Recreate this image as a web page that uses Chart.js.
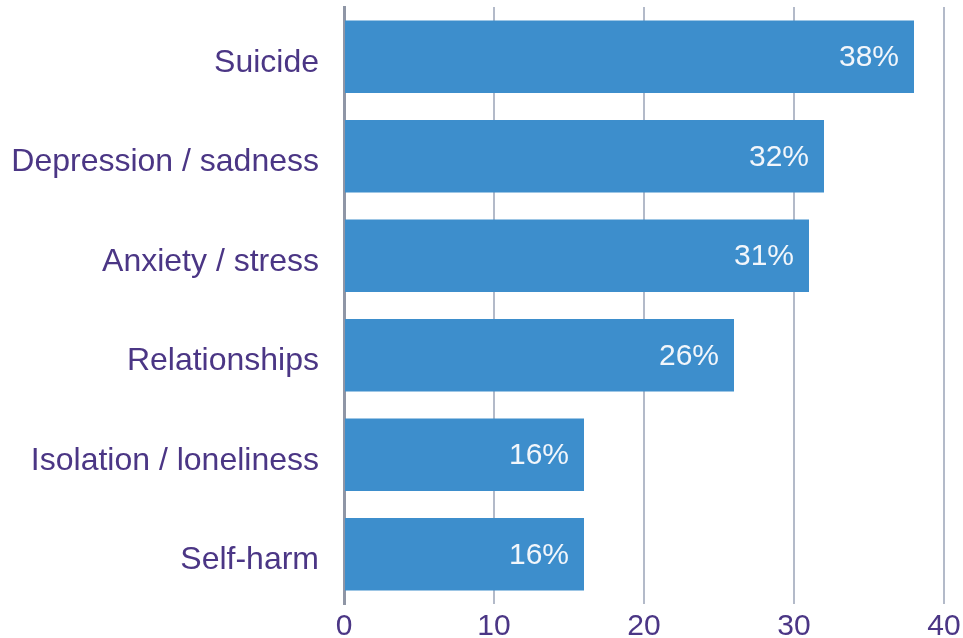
<!DOCTYPE html>
<html>
<head>
<meta charset="utf-8">
<script src="https://cdn.jsdelivr.net/npm/chart.js@4.4.0/dist/chart.umd.min.js"></script>
<style>
  html, body { margin: 0; padding: 0; background: #fff; }
  #wrap { width: 963px; height: 638px; }
</style>
</head>
<body>
<div id="wrap"><canvas id="topicChart"></canvas></div>
<script>
// categorie e valori
const categories = ["Suicide", "Depression / sadness", "Anxiety / stress", "Relationships", "Isolation / loneliness", "Self-harm"];
const percentValues = [38, 32, 31, 26, 16, 16];
const xTicks = [0, 10, 20, 30, 40];

const labelColor = "#4b3685";
const barColor = "#3d8ecc";
const fontFamily = "'Liberation Sans', Arial, sans-serif";

// etichette bianche dentro la fine della barra
const barLabels = {
    id: "barLabels",
    afterDatasetsDraw(chart) {
        const ctx = chart.ctx;
        const meta = chart.getDatasetMeta(0);
        ctx.save();
        ctx.font = "30px " + fontFamily;
        ctx.fillStyle = "#f2f6fb";
        ctx.textAlign = "right";
        ctx.textBaseline = "middle";
        meta.data.forEach((bar, i) => {
            ctx.fillText(percentValues[i] + "%", bar.x - 15, bar.y + 1);
        });
        ctx.restore();
    }
};

const ctx = document.getElementById("topicChart").getContext("2d");
new Chart(ctx, {
    type: "bar",
    data: {
        labels: categories,
        datasets: [{
            data: percentValues,
            backgroundColor: barColor,
            borderWidth: 0,
            categoryPercentage: 1,
            barPercentage: 0.73
        }]
    },
    options: {
        indexAxis: "y",
        responsive: true,
        maintainAspectRatio: false,
        animation: false,
        layout: { padding: { top: 7, right: 19, left: 0, bottom: 0 } },
        plugins: { legend: { display: false }, tooltip: { enabled: false } },
        scales: {
            x: {
                min: 0,
                max: 40,
                afterBuildTicks: axis => { axis.ticks = xTicks.map(v => ({ value: v })); },
                afterFit: axis => {
                    axis.height = 34;
                    axis.paddingLeft = 0;
                    axis.paddingRight = 0;
                },
                border: { display: false },
                grid: {
                    color: c => c.index === 0 ? "rgba(0,0,0,0)" : "#b3bac9",
                    lineWidth: 2,
                    drawTicks: false
                },
                ticks: {
                    color: labelColor,
                    padding: 5,
                    font: { family: fontFamily, size: 30 }
                }
            },
            y: {
                afterFit: axis => {
                    axis.width = 344;
                    axis.paddingTop = 0;
                    axis.paddingBottom = 0;
                },
                border: { display: true, color: "#8f96a6", width: 3 },
                grid: { display: false, drawTicks: false },
                ticks: {
                    color: labelColor,
                    padding: 25,
                    labelOffset: 6,
                    font: { family: fontFamily, size: 32 }
                }
            }
        }
    },
    plugins: [barLabels]
});
</script>
</body>
</html>
